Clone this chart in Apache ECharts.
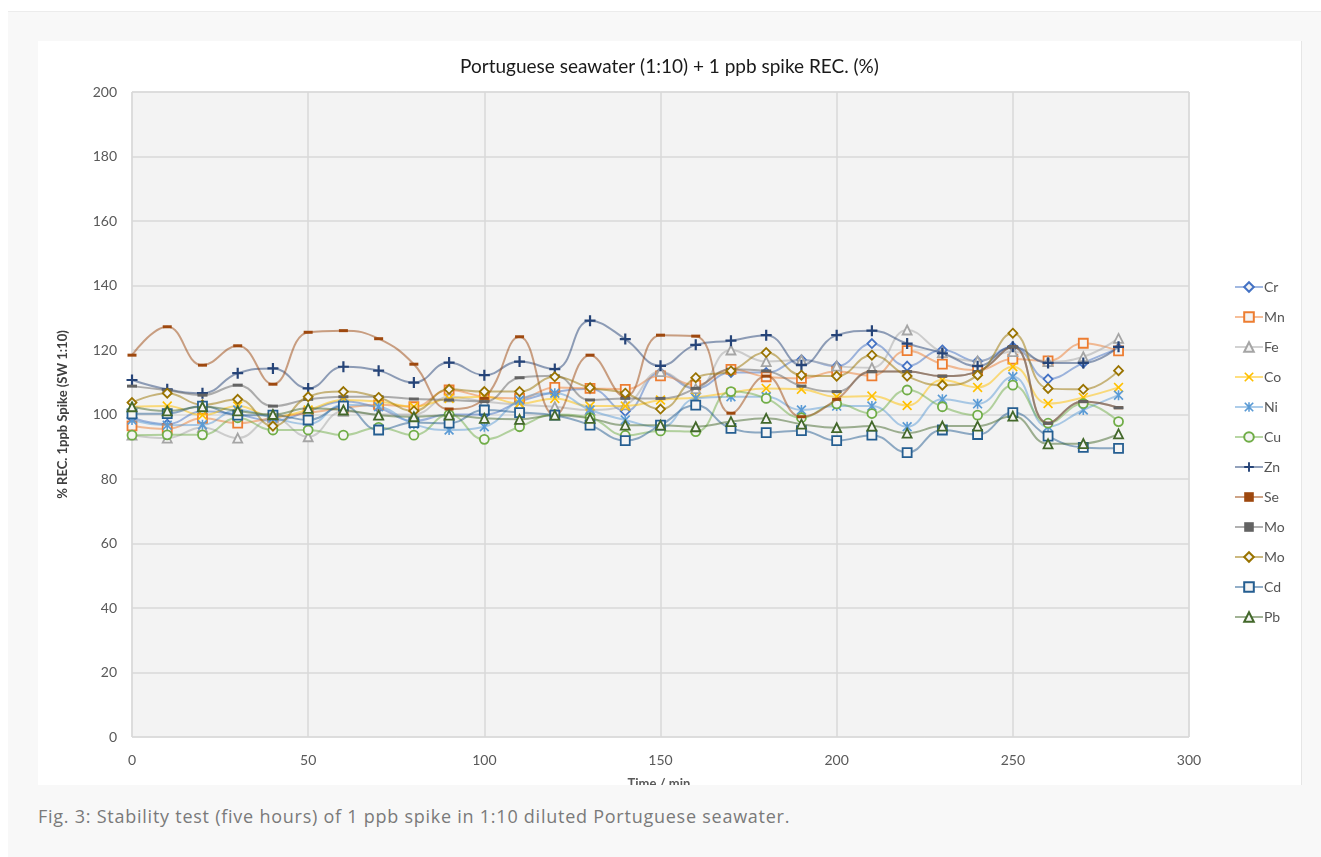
<!DOCTYPE html>
<html>
<head>
<meta charset="utf-8">
<script src="https://cdn.jsdelivr.net/npm/echarts@6/dist/echarts.min.js"></script>
<style>
  html, body { margin: 0; padding: 0; background: #ffffff; width: 1321px; height: 857px; overflow: hidden; }
  #panel { position: absolute; left: 8px; top: 11px; width: 1313px; height: 846px; background: #f8f8f8; border-top: 1px solid #ececec; }
  #chart { position: absolute; left: 38px; top: 41px; width: 1263px; height: 744px; background: #ffffff; border-right: 1px solid #e6e6e6; overflow: hidden; }
  #caption { position: absolute; left: 38px; top: 804px; font-family: "Open Sans", sans-serif; font-size: 18px; letter-spacing: 0.75px; color: #7a7a7a; white-space: nowrap; }
</style>
</head>
<body>
<div id="panel"></div>
<div id="chart"></div>
<div id="caption">Fig. 3: Stability test (five hours) of 1 ppb spike in 1:10 diluted Portuguese seawater.</div>
<script>
const time = [0,10,20,30,40,50,60,70,80,90,100,110,120,130,140,150,160,170,180,190,200,210,220,230,240,250,260,270,280];

const Cr  = [99,97,101,100,98,101,104,102,98,100,100,104,107,108,101,113,108,113,113,117,115,122,115,120,116.5,121,111,116,120.5];
const Mn  = [96.5,95.5,98.8,97.3,99,100.5,102,103,102.4,107.6,105.5,105,108.4,108.1,107.8,112,109.1,114,111.7,111.2,113.3,112,119.8,115.6,113.8,117.2,116.6,122.1,119.7];
const Fe  = [93.6,92.7,96,92.7,99,93.1,101,100,100,105.5,104,103,102.4,101.4,103,113.3,108,120,116.4,116.9,115,114.5,126.2,119.2,116.6,119.5,116.4,117.9,123.6];
const Co  = [102.4,102.6,99.8,102.6,99.3,101.4,104.5,104,102.4,105,105.5,103.4,105,102.6,102.6,104.5,105.3,106.8,108.1,107.8,105.5,105.7,102.8,110.7,108.4,114.8,103.4,105.3,108.4];
const Ni  = [98.3,96.7,96.8,101.4,99,97,103,102.4,97,95.2,96.2,104.5,106.6,101.4,98.3,96,105,105.5,105.5,101.4,102.6,102.6,96.2,104.7,103.3,111.7,96.2,101.4,106];
const Cu  = [93.6,93.7,93.7,99,95.2,95.2,93.6,96,93.6,100,92.3,96.2,100,99,93.5,94.9,94.7,107.1,105,99,103.3,100.3,107.6,102.4,99.8,109.1,97.3,103.4,97.8];
const Zn  = [110.7,107.8,106.6,112.8,114.3,108.1,114.8,113.6,109.9,116.1,112.2,116.4,114.1,129.1,123.4,115.1,121.6,122.9,124.6,115.3,124.6,126,122,119,115,121,116,116,121];
const Se  = [118.4,127.2,115.3,121.3,109.4,125.5,126,123.5,115.6,101.7,105,124.1,99.8,118.4,105.5,124.6,124.3,100.4,111.9,99.3,104.7,113.3,113.3,111.9,113.3,121,97.3,104,102.1];
const Mo1 = [108.8,107.5,106,109.1,102.6,104.7,105.5,105.5,104.8,104.5,104,111.4,112,104.5,105,105,108.1,114,113.5,108.8,107.1,113.3,113.3,111.9,113.3,121,97.3,104,102.1];
const Mo2 = [103.7,106.6,103,104.7,96.4,105.5,107.1,105.3,101.1,107.8,107.1,107.1,111.7,108.3,106.6,101.7,111.4,113.5,119.2,112.2,111.9,118.4,111.9,109.1,112.2,125.2,108.1,107.8,113.6];
const Cd  = [100.2,100.3,102.6,99.8,99.8,98.3,102.6,95.2,97.5,97.3,101.4,100.6,99.8,96.7,91.9,96.7,102.9,95.7,94.4,95,91.9,93.6,88.2,95.2,93.8,100.6,93.3,89.8,89.5];
const Pb  = [102.4,101.1,102.4,101.1,100,101.9,101.4,99.8,99.3,99.8,98.8,98.5,99.8,98.8,96.7,96.7,96.2,97.8,98.8,97,95.9,96.4,94.2,96.4,96.4,99.5,90.9,91,94];

const seriesNames = ['Cr','Mn','Fe','Co','Ni','Cu','Zn','Se','Mo','Mo ','Cd','Pb'];
const seriesData  = [Cr, Mn, Fe, Co, Ni, Cu, Zn, Se, Mo1, Mo2, Cd, Pb];
const colors = ['#4472C4','#ED7D31','#A5A5A5','#FFC000','#5B9BD5','#70AD47','#264478','#9E480E','#636363','#997300','#255E91','#43682B'];

const PLUS = 'path://M4,0H6V4H10V6H6V10H4V6H0V4H4Z';
const XS = 'path://M1.2,0L5,3.8L8.8,0L10,1.2L6.2,5L10,8.8L8.8,10L5,6.2L1.2,10L0,8.8L3.8,5L0,1.2Z';
const STAR = 'path://M1.2,0L5,3.8L8.8,0L10,1.2L6.2,5L10,8.8L8.8,10L5,6.2L1.2,10L0,8.8L3.8,5L0,1.2ZM4.2,0H5.8V10H4.2Z';
const DASH = 'path://M0,0H10V3H0Z';

// [symbol, size, hollow]
const marks = [
  ['diamond', 9, true],
  ['rect', 9, true],
  ['triangle', 9, true],
  [XS, 10, false],
  [STAR, 10, false],
  ['circle', 9, true],
  [PLUS, 11, false],
  [DASH, [9,3], false],
  [DASH, [10,3], false],
  ['diamond', 9, true],
  ['rect', 9, true],
  ['triangle', 9, true]
];

const series = seriesNames.map((n, i) => ({
  name: n,
  type: 'line',
  smooth: 0.45,
  data: time.map((t, j) => [t, seriesData[i][j]]),
  symbol: marks[i][0],
  symbolSize: marks[i][1],
  showAllSymbol: true,
  lineStyle: { color: colors[i], width: 2, opacity: 0.5 },
  itemStyle: marks[i][2]
    ? { color: '#f4f4f4', borderColor: colors[i], borderWidth: 1.8 }
    : { color: colors[i], borderWidth: 0 },
  emphasis: { disabled: true },
  z: 2 + i
}));

const chart = echarts.init(document.getElementById('chart'), null, { renderer: 'canvas' });
chart.setOption({
  animation: false,
  color: colors,
  textStyle: { fontFamily: 'Lato, "Liberation Sans", sans-serif' },
  title: {
    text: 'Portuguese seawater (1:10) + 1 ppb spike REC. (%)',
    left: 'center', top: 11,
    textStyle: { fontSize: 19, fontWeight: 'normal', color: '#1a1a1a', fontFamily: 'Lato, sans-serif' }
  },
  legend: {
    orient: 'vertical',
    left: 1191, top: 234,
    itemWidth: 28, itemHeight: 12, itemGap: 16,
    formatter: n => n.trim(),
    textStyle: { fontSize: 14, color: '#555555', fontFamily: 'Lato, sans-serif', padding: [0,0,0,-4] },
    data: seriesNames
  },
  grid: {
    left: 94, top: 51, right: 112, bottom: 48,
    outerBoundsMode: 'none',
    containLabel: false,
    show: true, backgroundColor: '#f3f3f3', borderColor: '#dcdcdc', borderWidth: 1
  },
  xAxis: {
    type: 'value', min: 0, max: 300, interval: 50,
    name: 'Time / min.', nameLocation: 'middle', nameGap: 40,
    nameTextStyle: { fontSize: 13, fontWeight: 'bold', color: '#595959' },
    axisLine: { show: false }, axisTick: { show: false },
    axisLabel: { fontSize: 14, color: '#595959', margin: 16 },
    splitLine: { show: true, lineStyle: { color: '#d9d9d9', width: 1.5 } }
  },
  yAxis: {
    type: 'value', min: 0, max: 200, interval: 20,
    name: '% REC. 1ppb Spike (SW 1:10)', nameLocation: 'middle', nameGap: 63,
    nameTextStyle: { fontSize: 13, fontWeight: 'bold', color: '#404040' },
    axisLine: { show: false }, axisTick: { show: false },
    axisLabel: { fontSize: 14, color: '#595959', margin: 15 },
    splitLine: { show: true, lineStyle: { color: '#d9d9d9', width: 1.5 } }
  },
  series: series
});
</script>
</body>
</html>
